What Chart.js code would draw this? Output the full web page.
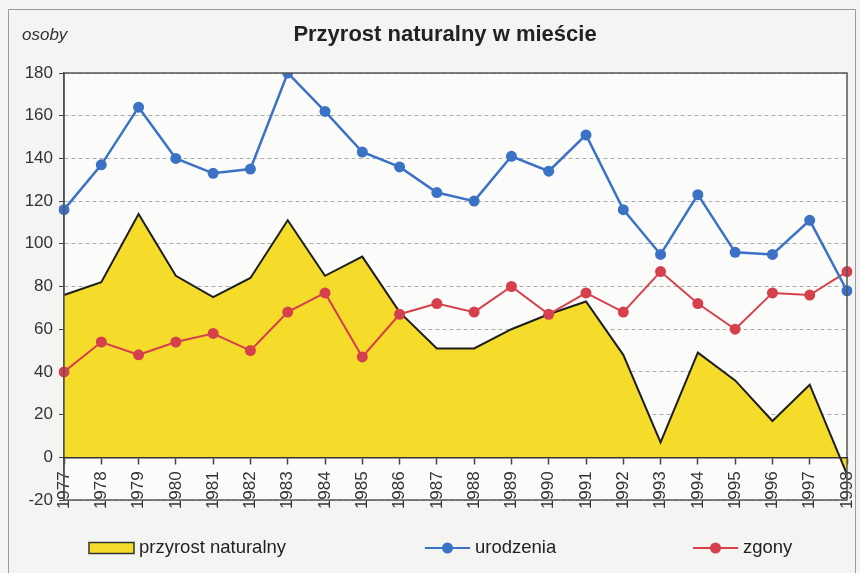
<!DOCTYPE html>
<html>
<head>
<meta charset="utf-8">
<script src="https://cdn.jsdelivr.net/npm/chart.js@4/dist/chart.umd.min.js"></script>
<style>
  body { margin: 0; background: #f4f4f2; }
  canvas { display: block; }
</style>
</head>
<body>
<canvas id="przyrost" width="860" height="573"></canvas>
<script>
// dane
var lata = ['1977', '1978', '1979', '1980', '1981', '1982', '1983', '1984', '1985', '1986', '1987',
            '1988', '1989', '1990', '1991', '1992', '1993', '1994', '1995', '1996', '1997', '1998'];
var urodzenia = [116, 137, 164, 140, 133, 135, 180, 162, 143, 136, 124, 120, 141, 134, 151, 116, 95, 123, 96, 95, 111, 78];
var zgony = [40, 54, 48, 54, 58, 50, 68, 77, 47, 67, 72, 68, 80, 67, 77, 68, 87, 72, 60, 77, 76, 87];
var przyrostNat = [76, 82, 114, 85, 75, 84, 111, 85, 94, 68, 51, 51, 60, 67, 73, 48, 7, 49, 36, 17, 34, -8];

var tytul = 'Przyrost naturalny w mieście';
var jednostka = 'osoby';

var FONT = "'Liberation Sans', Arial, sans-serif";
var ZOLTY = '#f6dc2a';
var NIEBIESKI = '#3b72c6';
var CZERWONY = '#d6404c';

// tlo, ramka, tytul, legenda
var dekoracje = {
    id: 'dekoracje',
    beforeDraw: function (chart) {
        var ctx = chart.ctx, a = chart.chartArea;
        ctx.save();
        ctx.fillStyle = '#f4f4f2';
        ctx.fillRect(0, 0, chart.width, chart.height);
        ctx.strokeStyle = '#9a9a9a';
        ctx.lineWidth = 1;
        ctx.beginPath();
        ctx.moveTo(8.5, chart.height);
        ctx.lineTo(8.5, 9.5);
        ctx.lineTo(855.5, 9.5);
        ctx.lineTo(855.5, chart.height);
        ctx.stroke();
        ctx.fillStyle = '#fbfbfa';
        ctx.fillRect(a.left, a.top, a.right - a.left, a.bottom - a.top);
        ctx.textBaseline = 'middle';
        ctx.fillStyle = '#333';
        ctx.font = 'italic 17px ' + FONT;
        ctx.fillText(jednostka, 22, 35);
        ctx.fillStyle = '#222';
        ctx.font = 'bold 22px ' + FONT;
        ctx.textAlign = 'center';
        ctx.fillText(tytul, 445, 35);
        ctx.restore();
    },
    afterDatasetsDraw: function (chart) {
        var ctx = chart.ctx, a = chart.chartArea;
        ctx.save();
        ctx.strokeStyle = '#555';
        ctx.lineWidth = 1.5;
        ctx.strokeRect(a.left, a.top, a.right - a.left, a.bottom - a.top);
        ctx.restore();
    },
    afterDraw: function (chart) {
        var ctx = chart.ctx;
        var xs = [89, 425, 693];
        var y = 548;
        ctx.save();
        ctx.font = '18.5px ' + FONT;
        ctx.textBaseline = 'middle';
        chart.data.datasets.forEach(function (ds, i) {
            var x = xs[i];
            if (ds.fill) {
                ctx.fillStyle = ds.backgroundColor;
                ctx.strokeStyle = '#333';
                ctx.lineWidth = 1.5;
                ctx.fillRect(x, y - 5.5, 45, 11);
                ctx.strokeRect(x, y - 5.5, 45, 11);
            } else {
                ctx.strokeStyle = ds.borderColor;
                ctx.lineWidth = 2;
                ctx.beginPath();
                ctx.moveTo(x, y);
                ctx.lineTo(x + 45, y);
                ctx.stroke();
                ctx.fillStyle = ds.borderColor;
                ctx.beginPath();
                ctx.arc(x + 22.5, y, 5.5, 0, Math.PI * 2);
                ctx.fill();
            }
            ctx.fillStyle = '#222';
            ctx.fillText(ds.label, x + 50, y);
        });
        ctx.restore();
    }
};

var chrt = document.getElementById('przyrost').getContext('2d');
var chartId = new Chart(chrt, {
    type: 'line',
    data: {
        labels: lata,
        datasets: [{
            label: 'przyrost naturalny',
            data: przyrostNat,
            fill: 'origin',
            backgroundColor: ZOLTY,
            borderColor: '#1e1e1e',
            borderWidth: 2,
            pointRadius: 0,
            tension: 0,
            order: 3
        }, {
            label: 'urodzenia',
            data: urodzenia,
            fill: false,
            borderColor: NIEBIESKI,
            backgroundColor: NIEBIESKI,
            borderWidth: 2.5,
            pointRadius: 5.5,
            pointBorderWidth: 0,
            order: 1
        }, {
            label: 'zgony',
            data: zgony,
            fill: false,
            borderColor: CZERWONY,
            backgroundColor: CZERWONY,
            borderWidth: 2,
            pointRadius: 5.5,
            pointBorderWidth: 0,
            order: 2
        }]
    },
    options: {
        responsive: false,
        animation: false,
        layout: {
            padding: { left: 0, right: 13, top: 73, bottom: 73 }
        },
        scales: {
            x: {
                type: 'category',
                position: { y: 0 },
                offset: false,
                afterFit: function (scale) { scale.paddingLeft = 0; scale.paddingRight = 0; },
                grid: {
                    drawOnChartArea: false,
                    tickLength: 6,
                    tickColor: '#444',
                    tickWidth: 1.5
                },
                border: { color: '#333', width: 1.5, z: 1 },
                ticks: {
                    autoSkip: false,
                    maxRotation: 90,
                    minRotation: 90,
                    padding: 8,
                    color: '#333',
                    font: { family: FONT, size: 17 }
                }
            },
            y: {
                min: -20,
                max: 180,
                afterFit: function (scale) { scale.width = 64; },
                grid: {
                    color: '#aaa',
                    lineWidth: 1,
                    tickLength: 5,
                    tickColor: '#444',
                    tickBorderDash: []
                },
                border: { color: '#444', width: 1.5, dash: [4, 3] },
                ticks: {
                    stepSize: 20,
                    padding: 6,
                    color: '#333',
                    font: { family: FONT, size: 17 }
                }
            }
        },
        plugins: {
            legend: { display: false },
            tooltip: { enabled: false }
        }
    },
    plugins: [dekoracje]
});
</script>
</body>
</html>
